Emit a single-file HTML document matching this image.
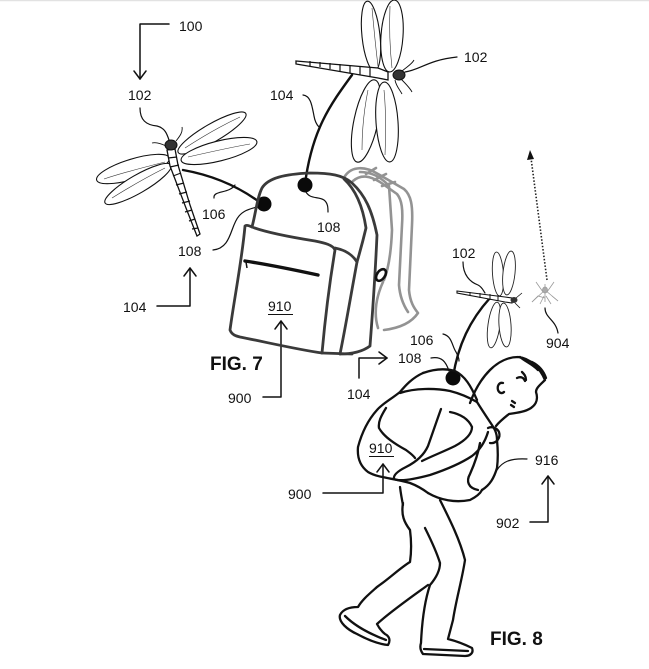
<!DOCTYPE html>
<html>
<head>
<meta charset="utf-8">
<style>
html,body{margin:0;padding:0;background:#fff;}
svg{display:block;}
text{font-family:"Liberation Sans",Arial,sans-serif;fill:#111;}
.n{font-size:14px;}
.fig{font-size:19px;font-weight:bold;}
</style>
</head>
<body>
<svg width="649" height="669" viewBox="0 0 649 669" xmlns="http://www.w3.org/2000/svg">
<rect x="0" y="0" width="649" height="669" fill="#fff"/>
<line x1="0" y1="0.5" x2="649" y2="0.5" stroke="#e2e2e2" stroke-width="1.5"/>

<!-- ========== Arrows & leader lines ========== -->
<g fill="none" stroke="#111" stroke-width="1.5" stroke-linecap="round" stroke-linejoin="round">
  <path d="M169,24 H140 V79"/>
  <path d="M134,71 L140,79 L146,71"/>
  <path d="M157,306 H190 V268"/>
  <path d="M184,276 L190,268 L196,276"/>
  <path d="M263,397 H281 V321"/>
  <path d="M275,329 L281,321 L287,329"/>
  <path d="M359,378 V358 H387"/>
  <path d="M379,352 L387,358 L379,364"/>
  <path d="M323,493 H383 V464"/>
  <path d="M377,472 L383,464 L389,472"/>
  <path d="M530,522 H548 V476"/>
  <path d="M542,484 L548,476 L554,484"/>
</g>
<g fill="none" stroke="#111" stroke-width="1.2" stroke-linecap="round">
  <path d="M140,108 C140,120 146,125 157,126 C165,128 167,134 169,140"/>
  <path d="M303,95 C311,96 312,106 314,116 C315,122 317,125 319,127"/>
  <path d="M405,72 C420,70 428,60 457,57"/>
  <path d="M214,198 C213,190 229,194 235,185"/>
  <path d="M213,250 C232,248 230,226 239,216 C246,208 254,209 261,205"/>
  <path d="M305,190 C309,200 318,196 324,200 C328,203 328,208 328,212"/>
  <path d="M443,334 C452,336 452,346 456,352 C458,356 459,358 459,361"/>
  <path d="M431,358 C442,356 446,362 449,371"/>
  <path d="M463,262 C463,275 470,282 478,285 C482,287 483,290 485,293"/>
  <path d="M545,308 C545,318 556,320 558,333"/>
  <path d="M527,459 C510,458 502,462 497,470"/>
</g>

<path d="M547,280 L531,158" fill="none" stroke="#222" stroke-width="1.6" stroke-dasharray="1.5,1.8"/>
<path d="M527,160 L530,150 L534,159 Z" fill="#111"/>

<!-- ========== Tethers & dots ========== -->
<g fill="none" stroke="#111" stroke-width="2.4" stroke-linecap="round">
  <path d="M183,170 Q228,178 262,204"/>
  <path d="M352,75 C330,105 312,130 305,184"/>
  <path d="M490,298 C470,320 458,345 453,377"/>
</g>
<circle cx="264" cy="204" r="7.5" fill="#0a0a0a"/>
<circle cx="305" cy="185" r="7.5" fill="#0a0a0a"/>
<circle cx="453" cy="378" r="7.5" fill="#0a0a0a"/>

<!-- ========== Top-right dragonfly ========== -->
<g fill="#fff" stroke="#111" stroke-width="1.1">
  <ellipse cx="371" cy="36" rx="9" ry="35" transform="rotate(-6 371 36)"/>
  <ellipse cx="392" cy="36" rx="11" ry="36" transform="rotate(4 392 36)"/>
  <ellipse cx="366" cy="121" rx="12" ry="42" transform="rotate(12 366 121)"/>
  <ellipse cx="387" cy="122" rx="11" ry="40" transform="rotate(-4 387 122)"/>
</g>
<g fill="none" stroke="#333" stroke-width="0.6">
  <path d="M372,8 C374,30 376,50 378,66"/>
  <path d="M390,6 C389,30 390,50 392,68"/>
  <path d="M368,90 C364,110 362,130 362,150"/>
  <path d="M384,90 C386,110 386,130 385,155"/>
</g>
<path d="M296,61 L378,68 L388,72 L388,80 L378,78 L296,64 Z" fill="#fff" stroke="#111" stroke-width="1.3"/>
<g stroke="#111" stroke-width="1.2">
  <line x1="310" y1="61" x2="310" y2="66"/>
  <line x1="320" y1="62" x2="320" y2="67"/>
  <line x1="330" y1="63" x2="330" y2="69"/>
  <line x1="340" y1="64" x2="340" y2="71"/>
  <line x1="350" y1="65" x2="350" y2="73"/>
  <line x1="360" y1="66" x2="360" y2="75"/>
  <line x1="370" y1="67" x2="370" y2="77"/>
</g>
<ellipse cx="399" cy="75" rx="6" ry="5" fill="#333" stroke="#111" stroke-width="1"/>
<g fill="none" stroke="#111" stroke-width="0.9">
  <path d="M402,71 C408,66 412,64 414,60"/>
  <path d="M401,79 C406,84 410,88 412,92"/>
  <path d="M395,80 C396,86 400,90 402,94"/>
</g>

<!-- ========== Left dragonfly ========== -->
<g fill="#fff" stroke="#111" stroke-width="1.1">
  <ellipse cx="212" cy="133" rx="39" ry="9" transform="rotate(-30 212 133)"/>
  <ellipse cx="219" cy="151" rx="39" ry="10" transform="rotate(-14 219 151)"/>
  <ellipse cx="133" cy="169" rx="38" ry="10" transform="rotate(-17 133 169)"/>
  <ellipse cx="138" cy="184" rx="38" ry="9" transform="rotate(-30 138 184)"/>
</g>
<g fill="none" stroke="#333" stroke-width="0.6">
  <path d="M185,148 C205,135 225,124 240,117"/>
  <path d="M188,157 C210,152 232,147 250,144"/>
  <path d="M165,162 C145,167 125,172 104,179"/>
  <path d="M165,168 C145,178 128,188 112,198"/>
</g>
<path d="M167,150 L175,149 L178,165 L190,205 L200,234 L197,236 L186,208 L170,166 Z" fill="#fff" stroke="#111" stroke-width="1.3"/>
<g stroke="#111" stroke-width="1.2">
  <line x1="168" y1="158" x2="177" y2="157"/>
  <line x1="170" y1="167" x2="179" y2="165"/>
  <line x1="173" y1="176" x2="181" y2="173"/>
  <line x1="176" y1="185" x2="184" y2="183"/>
  <line x1="179" y1="194" x2="187" y2="192"/>
  <line x1="182" y1="203" x2="190" y2="201"/>
  <line x1="185" y1="212" x2="192" y2="210"/>
  <line x1="189" y1="221" x2="195" y2="219"/>
  <line x1="192" y1="229" x2="198" y2="228"/>
</g>
<ellipse cx="171" cy="145" rx="6" ry="5" fill="#333" stroke="#111" stroke-width="1"/>
<g fill="none" stroke="#111" stroke-width="0.9">
  <path d="M176,141 C180,136 183,132 182,127"/>
  <path d="M166,146 C160,143 156,142 152,143"/>
</g>

<!-- ========== FIG 7 backpack ========== -->
<g fill="none" stroke="#939393" stroke-width="2.6" stroke-linecap="round" stroke-linejoin="round">
  <path d="M345,176 C352,166 365,166 378,174 L404,189 C411,195 413,205 412,225 L409,290 C410,302 414,308 418,313 C412,322 400,328 384,330"/>
  <path d="M353,181 C361,174 370,176 380,182 L397,194 C402,200 403,210 402,225 L399,285 C400,298 404,306 408,312"/>
  <path d="M360,172 C372,172 382,178 389,186 L392,230 C391,255 388,270 384,280"/>
  <path d="M383,282 C377,295 373,312 378,328"/>
  <path d="M366,174 L376,168 M374,180 L386,174 M382,186 L395,182"/>
</g>
<g fill="none" stroke="#3a3a3a" stroke-width="2.8" stroke-linejoin="round" stroke-linecap="round">
  <path d="M252,227 C256,212 257,198 262,188 C268,178 285,174 310,173 C330,173 343,175 352,183 C365,195 372,210 377,235 C375,280 372,320 370,346 C362,352 352,354 340,354"/>
  <path d="M344,179 C356,190 363,208 366,228 C362,245 359,255 357,262"/>
  <path d="M245,226 C242,260 234,300 230,330 C232,335 236,336 240,337 C270,343 300,350 322,353 C325,320 330,280 335,250 C333,245 325,243 315,241 C290,237 265,232 252,227 C248,225 246,225 245,226 Z"/>
  <path d="M335,248 C345,250 352,254 357,262 C350,300 345,330 340,354"/>
  <path d="M322,353 L352,354"/>
</g>
<ellipse cx="381" cy="275" rx="4" ry="6.5" transform="rotate(35 381 275)" fill="#fff" stroke="#111" stroke-width="2.6"/>
<path d="M245,261 C265,264 295,270 318,275" fill="none" stroke="#111" stroke-width="3.4" stroke-linecap="round"/>
<path d="M246,262 L247,268" stroke="#111" stroke-width="1.5"/>

<!-- ========== small dragonfly FIG 8 ========== -->
<g fill="#fff" stroke="#222" stroke-width="0.9">
  <ellipse cx="498" cy="274" rx="5.5" ry="22" transform="rotate(-4 498 274)"/>
  <ellipse cx="509" cy="273" rx="6" ry="22" transform="rotate(6 509 273)"/>
  <ellipse cx="494" cy="325" rx="6" ry="23" transform="rotate(8 494 325)"/>
  <ellipse cx="505" cy="325" rx="6" ry="22" transform="rotate(-4 505 325)"/>
</g>
<path d="M457,291 L505,297 L512,298 L512,303 L505,302 L457,293 Z" fill="#fff" stroke="#111" stroke-width="1.1"/>
<g stroke="#111" stroke-width="1">
  <line x1="470" y1="292" x2="470" y2="296"/>
  <line x1="480" y1="293" x2="480" y2="298"/>
  <line x1="490" y1="294" x2="490" y2="300"/>
  <line x1="498" y1="295" x2="498" y2="301"/>
</g>
<ellipse cx="514" cy="300" rx="3.5" ry="3" fill="#333"/>
<g fill="none" stroke="#111" stroke-width="0.8">
  <path d="M516,298 L522,293"/><path d="M515,303 L520,308"/>
</g>

<!-- mosquito 904 -->
<g fill="none" stroke="#9a9a9a" stroke-width="0.8">
  <path d="M545,284 L545,302"/>
  <path d="M545,290 L532,302 M545,290 L558,301"/>
  <path d="M543,292 L536,282 M547,292 L554,282"/>
  <path d="M544,296 L540,304 M546,296 L551,304"/>
  <ellipse cx="545" cy="290" rx="2.5" ry="3" fill="#aaa"/>
  <path d="M532,302 L538,296 L545,298 M558,301 L552,296"/>
</g>

<!-- ========== FIG 8 person with backpack ========== -->
<g fill="none" stroke="#111" stroke-width="2.3" stroke-linejoin="round" stroke-linecap="round">
  <path d="M423,373 C437,368 448,369 455,371 C465,376 471,386 477,400"/>
  <path d="M423,373 C412,378 405,386 400,392 C390,400 382,404 377,410 C368,420 362,432 358,447 C357,458 360,466 368,472 C378,478 393,478 410,483 C418,486 424,490 428,493"/>
  <path d="M400,393 C415,388 435,388 450,391 C462,394 470,398 477,402"/>
  <path d="M386,408 C381,416 378,422 379,428 C384,437 395,444 406,450 C410,453 413,455 415,458"/>
  <path d="M441,409 C437,420 433,432 428,446 C424,455 416,462 406,467 C398,471 393,475 394,479 C400,482 415,479 430,475 C445,470 460,464 472,456 C480,450 485,442 488,432"/>
  <path d="M450,412 C460,414 468,418 472,427 C472,434 466,440 455,446 C445,451 432,456 422,461"/>
  <path d="M477,402 C482,410 486,416 490,422 C494,428 497,432 497,440 C498,450 498,460 497,468 C494,478 490,485 482,490"/>
  <path d="M480,443 C478,455 474,465 470,474 C466,481 468,488 478,490"/>
  <path d="M488,428 C492,426 497,428 499,432 C501,438 496,444 490,443"/>
  <path d="M400,487 C401,495 402,500 403,505"/>
  <path d="M428,493 C440,500 455,503 470,500 C476,497 480,494 482,490"/>
  <path d="M470,403 C474,392 480,380 490,370 C498,362 508,357 518,357 C530,358 540,368 545,380 C540,385 536,388 536,392 C538,398 537,404 531,408 C525,412 516,413 509,414 C504,418 500,421 496,426"/>
  <path d="M520,357 C526,362 532,364 538,370 M532,362 C540,366 544,372 546,378"/>
  <path d="M503,383 C499,382 497,386 498,390 C499,393 502,394 504,392"/>
  <path d="M517,378 C521,376 524,378 525,381 M522,372 C524,374 526,376 526,380"/>
  <path d="M512,401 L515,403 M511,405 L514,407"/>
  <path d="M403,503 C401,515 404,522 410,530 C412,545 411,555 410,562 C400,568 390,578 377,587 C368,595 362,600 358,607 C350,607 343,609 340,615 C338,622 348,630 357,634 C368,640 378,644 388,645 C391,640 389,636 385,634 C380,630 378,626 377,624 C390,612 410,598 428,585"/>
  <path d="M345,616 C355,626 370,634 386,640"/>
  <path d="M440,500 C450,520 460,540 465,560 C462,580 456,600 453,620 L448,639 C456,641 466,645 472,648 C474,653 470,656 465,656 L423,654 C420,650 420,646 421,643 C422,620 425,600 430,585 C436,578 440,570 440,563 C436,550 430,538 425,528"/>
  <path d="M424,649 L468,651"/>
</g>

<!-- ========== Labels ========== -->
<text class="n" x="179" y="31">100</text>
<text class="n" x="128" y="100">102</text>
<text class="n" x="270" y="100">104</text>
<text class="n" x="464" y="62">102</text>
<text class="n" x="202" y="219">106</text>
<text class="n" x="178" y="256">108</text>
<text class="n" x="317" y="232">108</text>
<text class="n" x="123" y="312">104</text>
<text class="n" x="268" y="311">910</text>
<line x1="268" y1="314.5" x2="293" y2="314.5" stroke="#111" stroke-width="1.1"/>
<text class="n" x="228" y="403">900</text>
<text class="fig" x="210" y="370">FIG. 7</text>

<text class="n" x="410" y="345">106</text>
<text class="n" x="398" y="363">108</text>
<text class="n" x="347" y="399">104</text>
<text class="n" x="452" y="258">102</text>
<text class="n" x="546" y="348">904</text>
<text class="n" x="369" y="453">910</text>
<line x1="369" y1="456.5" x2="394" y2="456.5" stroke="#111" stroke-width="1.1"/>
<text class="n" x="288" y="499">900</text>
<text class="n" x="535" y="465">916</text>
<text class="n" x="496" y="528">902</text>
<text class="fig" x="490" y="645">FIG. 8</text>
</svg>
</body>
</html>
